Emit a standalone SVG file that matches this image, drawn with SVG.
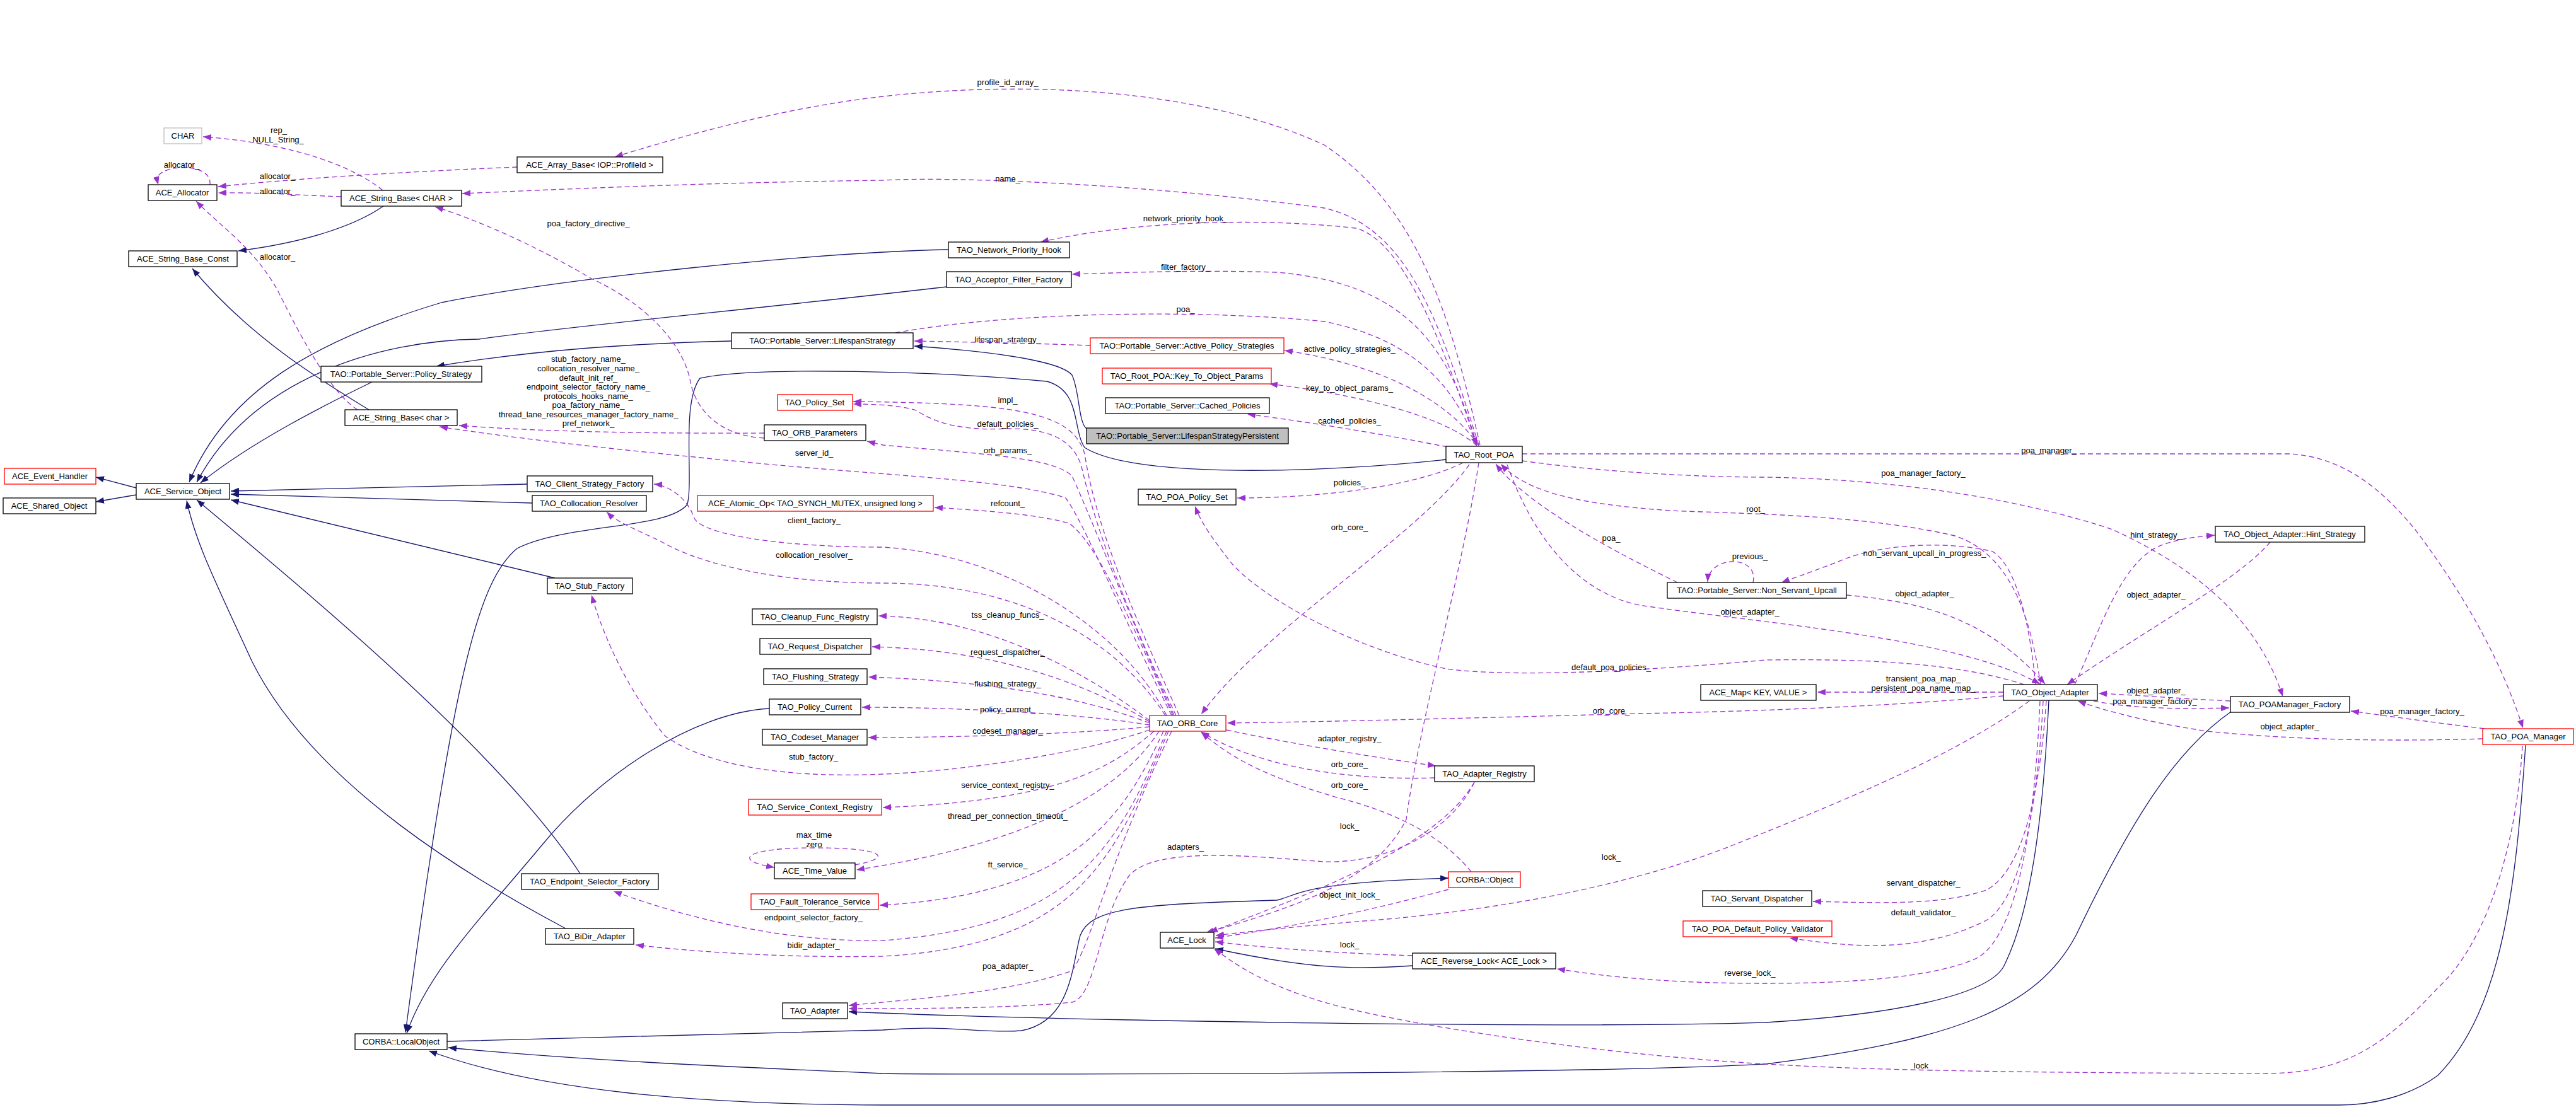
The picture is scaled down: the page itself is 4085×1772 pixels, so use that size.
<svg xmlns="http://www.w3.org/2000/svg" width="4085" height="1772" viewBox="0 0 4085 1772">
<style>
.n rect{fill:#fff;stroke:#000;stroke-width:1.3}
.n.r rect{stroke:#f00}
.n.g rect{stroke:#bfbfbf}
.n.f rect{fill:#bfbfbf}
text{font-family:"Liberation Sans",Arial,sans-serif;font-size:13px;fill:#000}
.n text{text-anchor:middle}
.lb text{text-anchor:middle}
.i{fill:none;stroke:#191970;stroke-width:1.3;marker-end:url(#ai)}
.i0{fill:none;stroke:#191970;stroke-width:1.3}
.u{fill:none;stroke:#9a32cd;stroke-width:1.3;stroke-dasharray:8,5;marker-end:url(#au)}
</style>
<defs>
<marker id="ai" markerUnits="userSpaceOnUse" markerWidth="13" markerHeight="10" refX="13" refY="5" orient="auto"><path d="M0,0 L13,5 L0,10 z" fill="#191970"/></marker>
<marker id="au" markerUnits="userSpaceOnUse" markerWidth="13" markerHeight="10" refX="13" refY="5" orient="auto"><path d="M0,0 L13,5 L0,10 z" fill="#9a32cd"/></marker>
</defs>
<rect width="4085" height="1772" fill="#fff"/>
<g id="connectors">
<path class="i" d="M216,774 L152,757"/>
<path class="i" d="M216,785 L152,796"/>
<path class="i" d="M608,327 C560,360 480,385 378,398"/>
<path class="i" d="M585,650 C520,610 400,540 305,426"/>
<path class="i" d="M1504,396 C1300,400 900,440 700,480 C500,540 360,620 300,765"/>
<path class="i" d="M1501,455 C1200,490 880,520 760,538 C600,540 400,600 312,765"/>
<path class="i" d="M590,606 C520,640 400,700 318,766"/>
<path class="i" d="M1160,541 C1000,545 850,555 692,581"/>
<path class="i" d="M836,768 L366,779"/>
<path class="i" d="M844,798 L366,784"/>
<path class="i" d="M880,917 L366,793"/>
<path class="i" d="M920,1386 C800,1200 500,950 312,793"/>
<path class="i" d="M897,1473 C760,1400 500,1250 400,1050 C340,920 310,860 296,794"/>
<path class="i" d="M2293,729 C2100,750 1800,760 1720,710 C1700,680 1715,620 1660,605 C1500,590 1200,580 1110,600 C1080,640 1100,760 1090,800 C1060,840 900,830 820,870 C760,920 720,1060 643,1638"/>
<path class="i" d="M1723,680 C1710,670 1712,620 1700,595 C1680,570 1550,556 1450,549"/>
<path class="i" d="M1220,1124 C1100,1130 950,1230 860,1340 C760,1460 680,1540 645,1639"/>
<path class="i" d="M709,1652 L1400,1634 C1500,1625 1560,1640 1620,1635 C1700,1620 1700,1530 1713,1484 C1730,1440 1800,1435 2025,1428 C2060,1420 2060,1400 2297,1393"/>
<path class="i" d="M3249,1111 C3240,1300 3220,1450 3177,1534 C3150,1580 3000,1610 2800,1622 C2500,1632 1700,1620 1346,1605"/>
<path class="i" d="M3538,1129 C3450,1190 3380,1300 3292,1484 C3230,1600 3100,1650 2800,1688 C2500,1705 1500,1705 1400,1703 C1100,1690 900,1680 711,1662"/>
<path class="i" d="M4005,1182 C3990,1400 3970,1600 3866,1706 C3820,1740 3760,1753 3710,1753 L1400,1753 C1100,1752 850,1730 680,1667"/>
<path class="i" d="M2240,1532 C2150,1538 2080,1538 1927,1505"/>
<path class="u" d="M607,302 C580,280 500,230 322,217"/>
<path class="u" d="M333,293 C335,268 300,262 270,268 C248,275 248,282 251,293"/>
<path class="u" d="M820,265 C700,270 500,280 346,296"/>
<path class="u" d="M541,312 C480,310 420,305 346,306"/>
<path class="u" d="M567,650 C520,620 470,520 440,460 C400,390 350,360 311,319"/>
<path class="u" d="M2347,706 C2300,500 2250,330 2100,230 C1950,160 1700,120 1400,153 C1250,170 1100,210 975,249"/>
<path class="u" d="M2345,706 C2280,500 2230,360 2100,330 C1800,290 1500,280 1400,286 C1100,290 900,300 733,307"/>
<path class="u" d="M2342,706 C2280,520 2220,380 2150,362 C2000,345 1800,350 1650,384"/>
<path class="u" d="M2342,706 C2300,560 2240,450 2025,432 C1900,428 1800,432 1700,435"/>
<path class="u" d="M1420,528 C1600,495 1900,490 2100,510 C2250,540 2310,620 2342,707"/>
<path class="u" d="M1729,548 C1650,545 1550,543 1450,541"/>
<path class="u" d="M2345,707 C2300,640 2200,580 2037,556"/>
<path class="u" d="M2342,707 C2290,660 2150,625 2013,609"/>
<path class="u" d="M2295,709 C2200,690 2080,670 1978,657"/>
<path class="u" d="M2320,734 C2250,770 2100,790 1962,790"/>
<path class="u" d="M2330,737 C2250,850 2000,1000 1905,1133"/>
<path class="u" d="M2414,720 L3630,720 C3720,725 3780,780 3830,840 C3920,960 3970,1060 4001,1155"/>
<path class="u" d="M2414,731 C2550,750 2700,757 2800,757 C3000,760 3200,790 3350,840 C3480,900 3580,980 3620,1105"/>
<path class="u" d="M3236,1086 C3220,980 3190,880 3100,850 C2950,815 2750,815 2650,810 C2500,800 2420,780 2380,736"/>
<path class="u" d="M2660,924 C2550,870 2420,800 2372,736"/>
<path class="u" d="M2780,924 C2790,880 2710,880 2708,923"/>
<path class="u" d="M3228,1086 C3220,1000 3200,900 3160,875 C3100,860 3000,860 2930,885 C2880,905 2850,915 2825,924"/>
<path class="u" d="M2928,944 C3050,955 3150,980 3243,1085"/>
<path class="u" d="M2390,737 C2430,850 2500,940 2600,960 C2800,990 3100,1010 3235,1085"/>
<path class="u" d="M3210,1086 C3100,1050 2950,1045 2800,1047 C2600,1065 2400,1075 2293,1061 C2150,1030 2000,950 1950,890 C1920,850 1905,830 1895,803"/>
<path class="u" d="M3290,1086 C3330,1000 3360,900 3420,868 C3450,855 3480,852 3512,849"/>
<path class="u" d="M3600,860 C3550,920 3400,1000 3278,1086"/>
<path class="u" d="M3177,1104 C3000,1120 2800,1128 2600,1132 C2300,1140 2100,1145 1946,1147"/>
<path class="u" d="M3177,1098 L2882,1098"/>
<path class="u" d="M3218,1112 C3100,1200 2900,1280 2750,1340 C2600,1400 2400,1440 2200,1458 C2050,1470 1980,1478 1928,1484"/>
<path class="u" d="M3245,1112 C3235,1250 3210,1380 3150,1412 C3080,1435 3000,1433 2875,1430"/>
<path class="u" d="M3240,1112 C3230,1300 3200,1430 3150,1460 C3050,1510 2950,1505 2838,1488"/>
<path class="u" d="M3235,1112 C3225,1350 3190,1500 3128,1523 C3050,1555 2900,1560 2800,1560 C2650,1560 2550,1550 2469,1537"/>
<path class="u" d="M3537,1112 C3450,1108 3380,1102 3328,1100"/>
<path class="u" d="M3320,1112 C3380,1124 3450,1125 3535,1123"/>
<path class="u" d="M3940,1156 C3850,1145 3780,1135 3728,1128"/>
<path class="u" d="M3937,1172 C3800,1176 3650,1175 3500,1160 C3400,1145 3330,1125 3295,1112"/>
<path class="u" d="M4000,1183 C3990,1350 3940,1500 3866,1567 C3780,1660 3720,1700 3600,1703 C3300,1702 3000,1700 2800,1688 C2500,1670 2200,1620 2100,1590 C2000,1560 1960,1530 1925,1505"/>
<path class="u" d="M1870,1135 C1810,1000 1740,850 1720,720 C1700,650 1600,640 1353,637"/>
<path class="u" d="M1865,1135 C1800,1000 1740,850 1715,740 C1700,690 1650,680 1600,680 C1500,685 1470,660 1450,650 C1420,642 1380,641 1353,641"/>
<path class="u" d="M1862,1135 C1800,1000 1730,820 1700,755 C1670,725 1550,720 1400,706 L1375,700"/>
<path class="u" d="M1858,1135 C1790,1000 1720,830 1690,790 C1600,760 1400,755 1161,731 C1000,715 850,700 697,677"/>
<path class="u" d="M1212,687 C1000,688 850,684 728,675"/>
<path class="u" d="M1212,695 C1130,690 1100,640 1094,601 C1080,540 1020,480 938,442 C850,390 760,350 690,328"/>
<path class="u" d="M1860,1135 C1800,1000 1740,860 1695,830 C1640,815 1560,810 1482,805"/>
<path class="u" d="M1850,1135 C1780,1000 1600,880 1400,868 C1250,868 1110,850 1100,820 C1090,790 1060,770 1037,768"/>
<path class="u" d="M1848,1135 C1760,1000 1600,925 1400,925 C1250,925 1120,900 1050,860 C1010,840 980,830 962,812"/>
<path class="u" d="M1823,1143 C1700,1050 1550,980 1393,977"/>
<path class="u" d="M1823,1145 C1700,1070 1550,1030 1383,1026"/>
<path class="u" d="M1823,1147 C1700,1100 1550,1080 1377,1074"/>
<path class="u" d="M1823,1150 C1700,1130 1500,1122 1367,1122"/>
<path class="u" d="M1823,1153 C1700,1165 1500,1170 1377,1170"/>
<path class="u" d="M1823,1158 C1700,1200 1500,1225 1400,1228 C1250,1235 1120,1215 1054,1167 C1000,1100 960,1020 938,944"/>
<path class="u" d="M1830,1160 C1760,1220 1680,1270 1400,1281"/>
<path class="u" d="M1838,1160 C1780,1250 1650,1330 1400,1373 L1358,1380"/>
<path class="u" d="M1356,1372 C1420,1360 1400,1345 1291,1345 C1180,1345 1160,1365 1228,1376"/>
<path class="u" d="M1845,1160 C1780,1300 1700,1420 1395,1436"/>
<path class="u" d="M1850,1160 C1770,1350 1700,1470 1400,1492 C1250,1495 1100,1460 973,1414"/>
<path class="u" d="M1853,1160 C1770,1350 1720,1500 1400,1517 C1250,1520 1100,1510 1008,1499"/>
<path class="u" d="M1858,1160 C1760,1360 1730,1500 1700,1540 C1600,1575 1450,1585 1346,1595"/>
<path class="u" d="M2338,1241 C2300,1320 2200,1370 2100,1367 C2000,1360 1830,1340 1790,1390 C1740,1460 1740,1580 1700,1590 C1600,1600 1450,1600 1346,1600"/>
<path class="u" d="M1945,1158 C2050,1180 2170,1200 2277,1215"/>
<path class="u" d="M2275,1234 C2150,1238 2000,1220 1905,1161"/>
<path class="u" d="M2333,1383 C2290,1330 2220,1290 2120,1265 C2000,1230 1950,1200 1905,1162"/>
<path class="u" d="M2338,1241 C2280,1340 2100,1410 1918,1479"/>
<path class="u" d="M2345,734 C2320,900 2250,1150 2230,1300 C2180,1400 2050,1440 1912,1480"/>
<path class="u" d="M2297,1411 C2150,1450 2050,1470 1927,1488"/>
<path class="u" d="M2240,1516 C2120,1512 2020,1505 1927,1494"/>
</g>
<g class="lb">
<text x="442" y="211">rep_</text><text x="441" y="226">NULL_String_</text>
<text x="288" y="266">allocator_</text>
<text x="440" y="284">allocator_</text>
<text x="440" y="308">allocator_</text>
<text x="440" y="412">allocator_</text>
<text x="933" y="359">poa_factory_directive_</text>
<text x="933" y="574">stub_factory_name_</text>
<text x="933" y="589">collocation_resolver_name_</text>
<text x="933" y="604">default_init_ref_</text>
<text x="933" y="618">endpoint_selector_factory_name_</text>
<text x="933" y="633">protocols_hooks_name_</text>
<text x="933" y="647">poa_factory_name_</text>
<text x="933" y="662">thread_lane_resources_manager_factory_name_</text>
<text x="933" y="676">pref_network_</text>
<text x="1291" y="723">server_id_</text>
<text x="1291" y="830">client_factory_</text>
<text x="1291" y="885">collocation_resolver_</text>
<text x="1598" y="135">profile_id_array_</text>
<text x="1598" y="288">name_</text>
<text x="1880" y="351">network_priority_hook_</text>
<text x="1880" y="428">filter_factory_</text>
<text x="1880" y="495">poa_</text>
<text x="1598" y="543">lifespan_strategy_</text>
<text x="2140" y="558">active_policy_strategies_</text>
<text x="2140" y="620">key_to_object_params_</text>
<text x="2140" y="672">cached_policies_</text>
<text x="1598" y="639">impl_</text>
<text x="1598" y="677">default_policies_</text>
<text x="1598" y="719">orb_params_</text>
<text x="2140" y="770">policies_</text>
<text x="1598" y="803">refcount_</text>
<text x="2140" y="841">orb_core_</text>
<text x="2784" y="812">root_</text>
<text x="2555" y="858">poa_</text>
<text x="2775" y="887">previous_</text>
<text x="3249" y="719">poa_manager_</text>
<text x="3050" y="755">poa_manager_factory_</text>
<text x="3419" y="853">hint_strategy_</text>
<text x="3052" y="882">non_servant_upcall_in_progress_</text>
<text x="1290" y="1205">stub_factory_</text>
<text x="1291" y="1329">max_time</text><text x="1291" y="1344">zero</text>
<text x="1290" y="1460">endpoint_selector_factory_</text>
<text x="1290" y="1504">bidir_adapter_</text>
<text x="1598" y="980">tss_cleanup_funcs_</text>
<text x="1598" y="1039">request_dispatcher_</text>
<text x="1598" y="1089">flushing_strategy_</text>
<text x="1598" y="1130">policy_current_</text>
<text x="1598" y="1164">codeset_manager_</text>
<text x="1598" y="1250">service_context_registry_</text>
<text x="1598" y="1299">thread_per_connection_timeout_</text>
<text x="1598" y="1376">ft_service_</text>
<text x="1880" y="1348">adapters_</text>
<text x="1598" y="1537">poa_adapter_</text>
<text x="2140" y="1176">adapter_registry_</text>
<text x="2140" y="1217">orb_core_</text>
<text x="2140" y="1250">orb_core_</text>
<text x="2140" y="1315">lock_</text>
<text x="2140" y="1424">object_init_lock_</text>
<text x="2140" y="1503">lock_</text>
<text x="2555" y="1364">lock_</text>
<text x="2555" y="1063">default_poa_policies_</text>
<text x="2555" y="1132">orb_core_</text>
<text x="2775" y="975">object_adapter_</text>
<text x="2775" y="1548">reverse_lock_</text>
<text x="3052" y="946">object_adapter_</text>
<text x="3419" y="948">object_adapter_</text>
<text x="3050" y="1081">transient_poa_map_</text>
<text x="3050" y="1096">persistent_poa_name_map_</text>
<text x="3419" y="1100">object_adapter_</text>
<text x="3417" y="1117">poa_manager_factory_</text>
<text x="3841" y="1133">poa_manager_factory_</text>
<text x="3631" y="1157">object_adapter_</text>
<text x="3050" y="1405">servant_dispatcher_</text>
<text x="3050" y="1452">default_validator_</text>
<text x="3050" y="1695">lock_</text>
</g>
<g id="CHAR" class="n g"><rect x="260" y="203" width="60" height="25"/><text x="290" y="220">CHAR</text></g>
<g id="ACE_Allocator" class="n"><rect x="235" y="293" width="109" height="25"/><text x="289" y="310">ACE_Allocator</text></g>
<g id="ACE_Array_Base" class="n"><rect x="820" y="249" width="231" height="25"/><text x="935" y="266">ACE_Array_Base&lt; IOP::ProfileId &gt;</text></g>
<g id="ACE_String_Base_CHAR" class="n"><rect x="541" y="302" width="191" height="25"/><text x="636" y="319">ACE_String_Base&lt; CHAR &gt;</text></g>
<g id="ACE_String_Base_Const" class="n"><rect x="204" y="398" width="172" height="25"/><text x="290" y="415">ACE_String_Base_Const</text></g>
<g id="LifespanStrategy" class="n"><rect x="1160" y="528" width="288" height="25"/><text x="1304" y="545">TAO::Portable_Server::LifespanStrategy</text></g>
<g id="Policy_Strategy" class="n"><rect x="509" y="581" width="255" height="25"/><text x="636" y="598">TAO::Portable_Server::Policy_Strategy</text></g>
<g id="ACE_String_Base_char" class="n"><rect x="547" y="650" width="178" height="25"/><text x="636" y="667">ACE_String_Base&lt; char &gt;</text></g>
<g id="TAO_Policy_Set" class="n r"><rect x="1233" y="626" width="119" height="25"/><text x="1292" y="643">TAO_Policy_Set</text></g>
<g id="TAO_ORB_Parameters" class="n"><rect x="1212" y="674" width="161" height="25"/><text x="1292" y="691">TAO_ORB_Parameters</text></g>
<g id="ACE_Event_Handler" class="n r"><rect x="7" y="743" width="145" height="25"/><text x="79" y="760">ACE_Event_Handler</text></g>
<g id="ACE_Shared_Object" class="n"><rect x="5" y="790" width="147" height="25"/><text x="78" y="807">ACE_Shared_Object</text></g>
<g id="ACE_Service_Object" class="n"><rect x="216" y="767" width="148" height="25"/><text x="290" y="784">ACE_Service_Object</text></g>
<g id="TAO_Client_Strategy_Factory" class="n"><rect x="836" y="755" width="199" height="25"/><text x="935" y="772">TAO_Client_Strategy_Factory</text></g>
<g id="TAO_Collocation_Resolver" class="n"><rect x="844" y="786" width="181" height="25"/><text x="934" y="803">TAO_Collocation_Resolver</text></g>
<g id="ACE_Atomic_Op" class="n r"><rect x="1106" y="786" width="374" height="25"/><text x="1293" y="803">ACE_Atomic_Op&lt; TAO_SYNCH_MUTEX, unsigned long &gt;</text></g>
<g id="TAO_Network_Priority_Hook" class="n"><rect x="1504" y="384" width="192" height="25"/><text x="1600" y="401">TAO_Network_Priority_Hook</text></g>
<g id="TAO_Acceptor_Filter_Factory" class="n"><rect x="1501" y="431" width="198" height="25"/><text x="1600" y="448">TAO_Acceptor_Filter_Factory</text></g>
<g id="Active_Policy_Strategies" class="n r"><rect x="1729" y="536" width="307" height="25"/><text x="1882" y="553">TAO::Portable_Server::Active_Policy_Strategies</text></g>
<g id="Key_To_Object_Params" class="n r"><rect x="1748" y="584" width="268" height="25"/><text x="1882" y="601">TAO_Root_POA::Key_To_Object_Params</text></g>
<g id="Cached_Policies" class="n"><rect x="1753" y="631" width="260" height="25"/><text x="1883" y="648">TAO::Portable_Server::Cached_Policies</text></g>
<g id="LifespanStrategyPersistent" class="n f"><rect x="1723" y="679" width="320" height="25"/><text x="1883" y="696">TAO::Portable_Server::LifespanStrategyPersistent</text></g>
<g id="TAO_Root_POA" class="n"><rect x="2293" y="708" width="121" height="26"/><text x="2353" y="726">TAO_Root_POA</text></g>
<g id="TAO_POA_Policy_Set" class="n"><rect x="1805" y="776" width="155" height="25"/><text x="1882" y="793">TAO_POA_Policy_Set</text></g>
<g id="Hint_Strategy" class="n"><rect x="3513" y="835" width="237" height="25"/><text x="3631" y="852">TAO_Object_Adapter::Hint_Strategy</text></g>
<g id="TAO_Stub_Factory" class="n"><rect x="868" y="917" width="135" height="25"/><text x="935" y="934">TAO_Stub_Factory</text></g>
<g id="TAO_Cleanup_Func_Registry" class="n"><rect x="1193" y="966" width="198" height="25"/><text x="1292" y="983">TAO_Cleanup_Func_Registry</text></g>
<g id="TAO_Request_Dispatcher" class="n"><rect x="1205" y="1013" width="176" height="25"/><text x="1293" y="1030">TAO_Request_Dispatcher</text></g>
<g id="TAO_Flushing_Strategy" class="n"><rect x="1211" y="1061" width="164" height="25"/><text x="1293" y="1078">TAO_Flushing_Strategy</text></g>
<g id="TAO_Policy_Current" class="n"><rect x="1220" y="1109" width="145" height="25"/><text x="1292" y="1126">TAO_Policy_Current</text></g>
<g id="TAO_Codeset_Manager" class="n"><rect x="1209" y="1157" width="166" height="25"/><text x="1292" y="1174">TAO_Codeset_Manager</text></g>
<g id="TAO_Service_Context_Registry" class="n r"><rect x="1187" y="1268" width="211" height="25"/><text x="1292" y="1285">TAO_Service_Context_Registry</text></g>
<g id="ACE_Time_Value" class="n"><rect x="1228" y="1369" width="128" height="25"/><text x="1292" y="1386">ACE_Time_Value</text></g>
<g id="TAO_Fault_Tolerance_Service" class="n r"><rect x="1191" y="1418" width="202" height="25"/><text x="1292" y="1435">TAO_Fault_Tolerance_Service</text></g>
<g id="TAO_Endpoint_Selector_Factory" class="n"><rect x="827" y="1386" width="217" height="25"/><text x="935" y="1403">TAO_Endpoint_Selector_Factory</text></g>
<g id="TAO_BiDir_Adapter" class="n"><rect x="865" y="1473" width="140" height="25"/><text x="935" y="1490">TAO_BiDir_Adapter</text></g>
<g id="TAO_Adapter" class="n"><rect x="1241" y="1591" width="103" height="25"/><text x="1292" y="1608">TAO_Adapter</text></g>
<g id="CORBA_LocalObject" class="n"><rect x="563" y="1640" width="146" height="25"/><text x="636" y="1657">CORBA::LocalObject</text></g>
<g id="TAO_ORB_Core" class="n r"><rect x="1823" y="1135" width="121" height="25"/><text x="1883" y="1152">TAO_ORB_Core</text></g>
<g id="TAO_Adapter_Registry" class="n"><rect x="2275" y="1215" width="158" height="25"/><text x="2354" y="1232">TAO_Adapter_Registry</text></g>
<g id="CORBA_Object" class="n r"><rect x="2297" y="1383" width="114" height="25"/><text x="2354" y="1400">CORBA::Object</text></g>
<g id="ACE_Lock" class="n"><rect x="1840" y="1479" width="85" height="25"/><text x="1882" y="1496">ACE_Lock</text></g>
<g id="ACE_Reverse_Lock" class="n"><rect x="2240" y="1512" width="227" height="25"/><text x="2353" y="1529">ACE_Reverse_Lock&lt; ACE_Lock &gt;</text></g>
<g id="Non_Servant_Upcall" class="n"><rect x="2644" y="924" width="284" height="25"/><text x="2786" y="941">TAO::Portable_Server::Non_Servant_Upcall</text></g>
<g id="ACE_Map" class="n"><rect x="2697" y="1086" width="183" height="25"/><text x="2788" y="1103">ACE_Map&lt; KEY, VALUE &gt;</text></g>
<g id="TAO_Servant_Dispatcher" class="n"><rect x="2700" y="1413" width="173" height="25"/><text x="2786" y="1430">TAO_Servant_Dispatcher</text></g>
<g id="TAO_POA_Default_Policy_Validator" class="n r"><rect x="2669" y="1461" width="236" height="25"/><text x="2787" y="1478">TAO_POA_Default_Policy_Validator</text></g>
<g id="TAO_Object_Adapter" class="n"><rect x="3177" y="1086" width="149" height="25"/><text x="3251" y="1103">TAO_Object_Adapter</text></g>
<g id="TAO_POAManager_Factory" class="n"><rect x="3537" y="1105" width="189" height="25"/><text x="3631" y="1122">TAO_POAManager_Factory</text></g>
<g id="TAO_POA_Manager" class="n r"><rect x="3937" y="1156" width="144" height="25"/><text x="4009" y="1173">TAO_POA_Manager</text></g>
</svg>
